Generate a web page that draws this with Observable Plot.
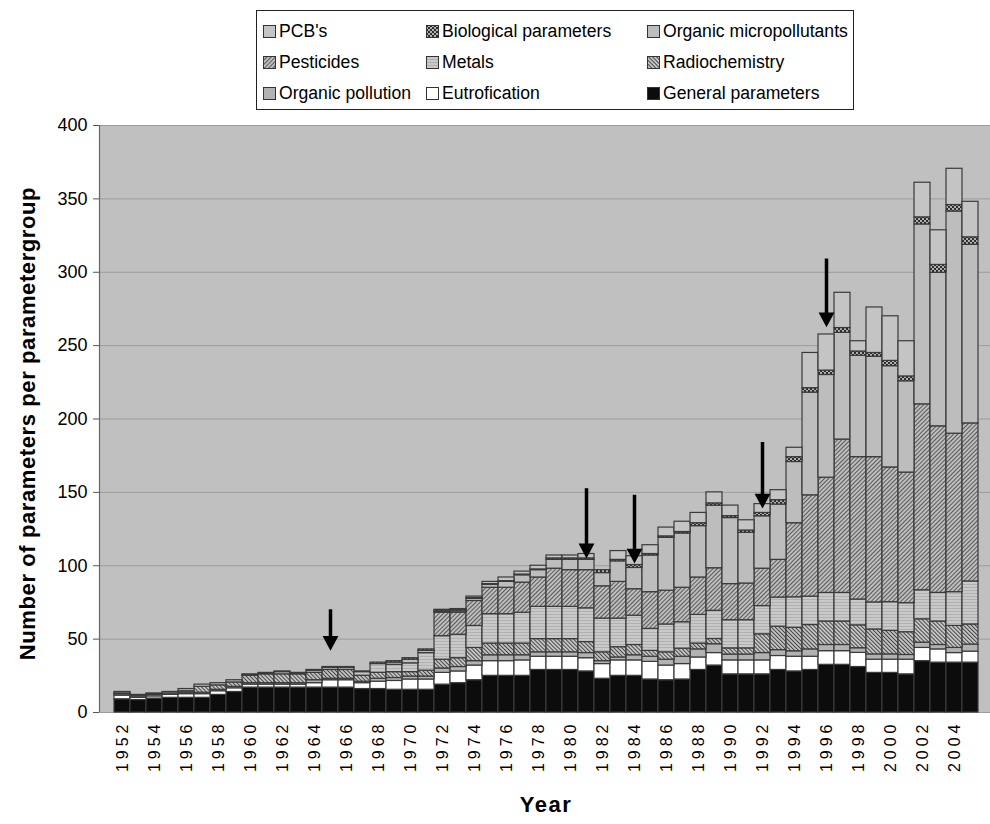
<!DOCTYPE html>
<html>
<head>
<meta charset="utf-8">
<script src="https://cdn.jsdelivr.net/npm/d3@7"></script>
<script src="https://cdn.jsdelivr.net/npm/@observablehq/plot@0.6"></script>
<style>
html, body { margin: 0; padding: 0; background: #fff; overflow: hidden; }
body { width: 990px; height: 824px; font-family: "Liberation Sans", Arial, sans-serif; }
#legend { position: relative; height: 110px; }
#legend .box { position: absolute; left: 256px; top: 10px; width: 598px; height: 100px; border: 1px solid #222; box-sizing: border-box; }
#legend .item { position: absolute; font-size: 17.6px; line-height: 20px; color: #000; display: flex; align-items: center; white-space: nowrap; }
#legend .item svg { margin-right: 3px; display: block; }
#chart svg { display: block; }
</style>
</head>
<body>
<svg width="0" height="0" style="position:absolute">
  <defs>
    <pattern id="p-radio" width="2.8" height="2.8" patternUnits="userSpaceOnUse" patternTransform="rotate(-45)">
      <rect width="2.8" height="2.8" fill="#c8c8c8"></rect>
      <line x1="0.5" y1="0" x2="0.5" y2="2.8" stroke="#444" stroke-width="1"></line>
    </pattern>
    <pattern id="p-pest" width="3" height="3" patternUnits="userSpaceOnUse" patternTransform="rotate(45)">
      <rect width="3" height="3" fill="#bebebe"></rect>
      <line x1="0.5" y1="0" x2="0.5" y2="3" stroke="#4e4e4e" stroke-width="0.9"></line>
    </pattern>
    <pattern id="p-metals" width="4" height="3" patternUnits="userSpaceOnUse">
      <rect width="4" height="3" fill="#c9c9c9"></rect>
      <line x1="0" y1="0.5" x2="4" y2="0.5" stroke="#b0b0b0" stroke-width="1"></line>
    </pattern>
    <pattern id="p-bio" width="4" height="4" patternUnits="userSpaceOnUse">
      <rect width="4" height="4" fill="#b0b0b0"></rect>
      <rect width="2" height="2" fill="#2e2e2e"></rect>
      <rect x="2" y="2" width="2" height="2" fill="#2e2e2e"></rect>
    </pattern>
  </defs>
</svg>
<div id="legend"><div class="box"></div></div>
<div id="chart"></div>
<script>
// ---- data (1952–2005), values per parametergroup, stacked bottom → top ----
const years = [1952,1953,1954,1955,1956,1957,1958,1959,1960,1961,
               1962,1963,1964,1965,1966,1967,1968,1969,1970,1971,
               1972,1973,1974,1975,1976,1977,1978,1979,1980,1981,
               1982,1983,1984,1985,1986,1987,1988,1989,1990,1991,
               1992,1993,1994,1995,1996,1997,1998,1999,2000,2001,
               2002,2003,2004,2005];

const general = [9,8.5,9.5,10,10,10,12,14,17,17,
                 17,17,17,17,17,16,16,15.5,15.5,15.5,
                 19,20,22,25,25,25,29,29,29,28,
                 23,25,25,22.5,22,22.5,29,32,26,26,
                 26,29,28,29,32.5,32.5,31,27,27,26,
                 35,34,34,34];
const eutrofication = [2.5,1.5,1.5,2,2.5,2.5,2.5,2.5,2,2,
                       2,2,3,5,5,4,5,6,7,7,
                       8,8,10,10,10,10.5,9,9,9,9,
                       10,10.5,10.5,12,10,10.5,8.5,8.5,9.5,9.5,
                       9.5,9.5,10,9,9.3,9.3,9.6,9,9,10,
                       9,9,6.5,7.5];
const organicPollution = [1,1,1,1,1,1,1,1,1,1,
                          1,1,2,1,1,1,2,2,2,2,
                          3,3,3,4,4,3.5,3,3,3,3.5,
                          2,2,3.5,3.5,4,5,5.5,6,4,4,
                          5,4,3.7,5,4.2,4.2,3.2,3.6,3.6,3.2,
                          3.6,3,3.5,4.8];
const radiochemistry = [0,0,0,0,1,4,3,3,5,6,
                        6,6,5,6,6,4,4,4,3,4,
                        6,6,9,8,8,8,9,9,9,7.5,
                        6,7,7,4,5,5.5,4,3.6,4.2,4.2,
                        12.8,16,16,16.6,16,16,15.6,17,16,15.5,
                        15.9,16,15,13.7];
const metals = [0.5,0.5,0.5,1,1.5,1.5,1.5,1.5,0.5,0.5,
                1.5,0.5,1.5,1.5,1.5,2.5,6,5,6,12,
                16,16,15,20,20,21,22,22,22,23,
                23,19.5,20,15,19,18,19.5,19.2,19.2,19.2,
                19.2,19.8,20.8,19.4,19.5,19.5,17.6,18.4,19.6,19.8,
                19.8,19.5,23,29.3];
const pesticides = [0,0,0,0,0,0,0,0,0,0,
                    0,0,0,0,0,0,0,0,0,0,
                    16,15,17,18,18,20.5,20,26,25,26,
                    22,25,18,25,23,23.5,25.5,29,24.6,25,
                    25.5,25.7,50.5,69,78.5,104.5,97,99,91.8,89,
                    126.7,113.5,108,107.7];
const organicMicropollutants = [0,0,0,0,0,0,0,0,0,0,
                                0,0,0,0,0,0,0,1.5,2.5,1.5,
                                0.5,1,1.5,2,4,5,5,6,7,7,
                                9,14,14.5,25,36,37,35,42.7,45,34.5,
                                35.7,37.7,41.7,70,70,72.7,69,68.4,69,62.2,
                                122.6,104.6,151.4,121.7];
const biological = [0,0,0,0,0,0,0,0,0.5,0.5,
                    0.5,0.5,0.5,0.5,0.5,0.5,1,1,1,1,
                    1,1,0.5,0.5,0.5,0.5,0.5,1,1,1,
                    2,1,2,1,1,1,2,1.5,1.3,1.6,
                    2.3,3,3.3,3,3,3.3,3,2.6,3.6,3.3,
                    4.8,5.4,4.4,5.1];
const pcbs = [1,0.5,0.5,0,0,0,0,0,0,0,
              0,0,0,0,0,0,0,0,0,0,
              0.5,0.5,1,1.5,2.5,2,2.5,2,2,3,
              0,6,6,6,6,7,7,7.5,7.2,7,
              6,6.8,6.4,24,24.6,24,7,31,30.4,24,
              23.6,23.6,24.7,24.2];

const seriesNames = ["General parameters","Eutrofication","Organic pollution","Radiochemistry",
                     "Metals","Pesticides","Organic micropollutants","Biological parameters","PCB's"];
const seriesValues = [general, eutrofication, organicPollution, radiochemistry,
                      metals, pesticides, organicMicropollutants, biological, pcbs];
const seriesFills = ["#0c0c0c","#ffffff","#b2b2b2","url(#p-radio)",
                     "url(#p-metals)","url(#p-pest)","#bdbdbd","url(#p-bio)","#c4c4c4"];

const yTicks = [0,50,100,150,200,250,300,350,400];
const xTickLabels = [1952,1954,1956,1958,1960,1962,1964,1966,1968,1970,1972,1974,1976,1978,
                     1980,1982,1984,1986,1988,1990,1992,1994,1996,1998,2000,2002,2004];

// arrows marking years (start value and tip value)
const arrowYears = [1965, 1981, 1984, 1992, 1996];
const arrowTop   = [70, 152.5, 148, 184, 309];
const arrowTip   = [42, 105, 101.5, 139, 262.5];

// ---- build table ----
const data = [];
seriesNames.forEach((name, s) => {
  years.forEach((yr, i) => {
    const v = seriesValues[s][i];
    if (v > 0) data.push({year: yr, series: name, value: v});
  });
});
const arrows = arrowYears.map((yr, i) => ({year: yr, top: arrowTop[i], tip: arrowTip[i]}));

// downward triangle with its tip at the anchor point
const downTriangle = {
  draw(context, size) {
    const s = Math.sqrt(size);
    const hw = s * 0.56, h = s * 1.05;
    context.moveTo(-hw, -h);
    context.lineTo(hw, -h);
    context.lineTo(0, 0);
    context.closePath();
  }
};

// ---- legend (HTML, above the SVG) ----
const legendOrder = seriesNames.slice().reverse();
const colX = [6, 169, 390];
const rowY = [10, 41, 72];
const box = document.querySelector("#legend .box");
legendOrder.forEach((name, k) => {
  const fill = seriesFills[seriesNames.indexOf(name)];
  const div = document.createElement("div");
  div.className = "item";
  div.style.left = colX[k % 3] + "px";
  div.style.top = rowY[Math.floor(k / 3)] + "px";
  div.innerHTML = `<svg width="13" height="13"><rect x="0.5" y="0.5" width="12" height="12" fill="${fill}" stroke="#333" stroke-width="1"></rect></svg><span>${name}</span>`;
  box.appendChild(div);
});

// ---- chart ----
const chart = Plot.plot({
  width: 990,
  height: 714,
  marginLeft: 99,
  marginRight: -2,
  marginTop: 15,
  marginBottom: 112,
  style: {fontFamily: "'Liberation Sans', Arial, sans-serif", background: "transparent", color: "#000"},
  x: {type: "band", domain: years, padding: 0, label: null},
  y: {domain: [0, 400], label: null},
  color: {domain: seriesNames, range: seriesFills},
  marks: [
    Plot.frame({fill: "#c0c0c0", stroke: "none"}),
    Plot.gridY(yTicks, {stroke: "#9c9c9c", strokeOpacity: 1, strokeWidth: 1}),
    Plot.barY(data, {x: "year", y: "value", fill: "series", stroke: "#3a3a3a", strokeWidth: 1.2}),
    Plot.ruleX(arrows, {x: "year", y1: "top", y2: "tip", stroke: "#000", strokeWidth: 3.5, insetBottom: 8}),
    Plot.dot(arrows, {x: "year", y: "tip", symbol: downTriangle, r: 8, fill: "#000", stroke: "none"}),
    Plot.axisY(yTicks, {tickSize: 6, tickPadding: 6, fontSize: 18, stroke: "#555", label: null}),
    Plot.axisX(xTickLabels, {tickSize: 0, tickPadding: 8, tickRotate: -90, fontSize: 16, label: null,
                             tickFormat: d => String(d)})
  ]
});
document.getElementById("chart").appendChild(chart);

// ---- finishing touches: axis line, letter spacing, axis titles ----
const svg = d3.select(chart);
const sy = chart.scale("y");
svg.append("line")
  .attr("x1", 99.5).attr("x2", 99.5)
  .attr("y1", sy.apply(400)).attr("y2", sy.apply(0))
  .attr("stroke", "#666").attr("stroke-width", 1.2);
svg.selectAll('g[aria-label="x-axis tick label"] text').style("letter-spacing", "4px");
svg.append("text")
  .attr("transform", `translate(29,${(sy.apply(0) + sy.apply(400)) / 2 + 5}) rotate(-90)`)
  .attr("text-anchor", "middle").attr("dominant-baseline", "middle")
  .style("font-size", "22px").style("font-weight", "bold").style("letter-spacing", "0.6px")
  .text("Number of parameters per parametergroup");
svg.append("text")
  .attr("x", 546).attr("y", 696)
  .attr("text-anchor", "middle").attr("dominant-baseline", "middle")
  .style("font-size", "22px").style("font-weight", "bold").style("letter-spacing", "1.5px")
  .text("Year");
</script>
</body>
</html>
